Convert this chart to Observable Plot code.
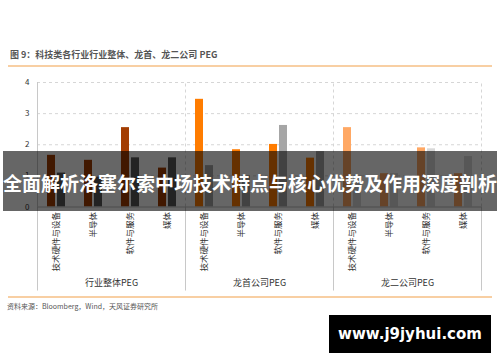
<!DOCTYPE html>
<html><head><meta charset="utf-8">
<script src="https://cdn.jsdelivr.net/npm/d3@7"></script>
<script src="https://cdn.jsdelivr.net/npm/@observablehq/plot@0.6"></script>
<style>
body{margin:0;background:#fff;}
#wrap{position:relative;width:500px;height:362px;overflow:hidden;font-family:"Noto Sans CJK SC","Noto Sans",sans-serif;background:#fff;}
#title{position:absolute;left:10px;top:48px;font-size:9px;font-weight:bold;color:#555;white-space:nowrap;}
.oline{position:absolute;left:8px;width:484px;height:2px;background:#f8cfa3;}
#chart{position:absolute;left:0;top:0;}
#source{position:absolute;left:7px;top:301px;font-size:7px;color:#555;white-space:nowrap;}
#banner{position:absolute;left:3px;top:151px;width:494px;height:60px;background:rgba(0,0,0,0.6);}
#banner span{position:absolute;left:0;top:19px;width:494px;text-align:center;font-size:19px;line-height:26px;font-weight:bold;color:#fff;white-space:nowrap;letter-spacing:0px;}
#wm{position:absolute;left:329px;top:315px;width:162px;height:38px;background:#000;color:#fff;font-family:"DejaVu Sans",sans-serif;font-weight:bold;font-size:15px;line-height:38px;text-align:center;}
</style></head><body>
<div id="wrap">
  <div id="title">图 9：科技类各行业行业整体、龙首、龙二公司 PEG</div>
  <div class="oline" style="top:65px"></div>
  <div id="chart"></div>
  <div class="oline" style="top:296px"></div>
  <div id="source">资料来源：Bloomberg，Wind，天风证券研究所</div>
  <div id="banner"><span>全面解析洛塞尔索中场技术特点与核心优势及作用深度剖析</span></div>
  <div id="wm">www.j9jyhui.com</div>
</div>
<script>
const groups = ["行业整体PEG", "龙首公司PEG", "龙二公司PEG"];
const categories = ["技术硬件与设备", "半导体", "软件与服务", "媒体"];
const pegValues = [1.66, 1.50, 2.55, 1.25, 3.46, 1.84, 2.01, 1.57, 2.55, 1.07, 1.90, 1.07];
const compareValues = [1.09, 0.96, 1.58, 1.58, 1.33, 1.00, 2.62, 1.78, 1.00, 1.07, 1.87, 1.62];
const yTicks = [0, 1, 2, 3, 4];

const mainColors = ["#a33d02", "#ff7c00", "#ffa864"];
const grayColors = ["#595959", "#a6a6a6", "#d9d9d9"];

const key = (g, c) => g + "|" + c;
const rows = [];
groups.forEach((g, gi) => categories.forEach((c, ci) => {
  const i = gi * categories.length + ci;
  rows.push({key: key(g, c), group: g, gi, peg: pegValues[i], cmp: compareValues[i]});
}));
const keys = rows.map(d => d.key);
const half = (481 - 37) / keys.length / 2;
const firstKeys = groups.map(g => key(g, categories[0]));
const lastKey = keys[keys.length - 1];

const chart = Plot.plot({
  width: 500,
  height: 300,
  marginTop: 82,
  marginBottom: 93.5,
  marginLeft: 37,
  marginRight: 19,
  style: {fontFamily: '"Noto Sans CJK SC", sans-serif', color: "#333", background: "transparent"},
  x: {type: "band", domain: keys, padding: 0, label: null},
  y: {domain: [0, 4], label: null},
  marks: [
    Plot.ruleY(yTicks.filter(t => t > 0), {stroke: "#d6d6d6", strokeDasharray: "3,3"}),
    Plot.ruleX(firstKeys.slice(1), {x: d => d, dx: -half, y1: 0, y2: 4, stroke: "#d6d6d6", strokeDasharray: "3,3"}),
    Plot.ruleX([lastKey], {x: d => d, dx: half, y1: 0, y2: 4, stroke: "#d6d6d6", strokeDasharray: "3,3"}),
    Plot.ruleX([firstKeys[0]], {x: d => d, dx: -half, y1: 4, y2: 0, stroke: "#c8c8c8"}),
    Plot.ruleX(firstKeys, {x: d => d, dx: -half, y1: 0, y2: -2.7, stroke: "#c8c8c8"}),
    Plot.ruleX([lastKey], {x: d => d, dx: half, y1: 0, y2: -2.7, stroke: "#c8c8c8"}),
    Plot.barY(rows, {x: "key", y: "peg", fill: d => mainColors[d.gi], insetLeft: 10, insetRight: 19}),
    Plot.barY(rows, {x: "key", y: "cmp", fill: d => grayColors[d.gi], insetLeft: 20, insetRight: 9}),
    Plot.ruleY([0], {stroke: "#bfbfbf"}),
    Plot.axisY({ticks: yTicks, tickSize: 0, tickPadding: 8, fontSize: 8, label: null, tickFormat: d => String(d)}),
    Plot.axisX({tickSize: 0, tickPadding: 5, tickRotate: -90, fontSize: 8.5, label: null, tickFormat: d => d.split("|")[1]}),
    Plot.text(groups, {x: g => key(g, categories[1]), dx: half, frameAnchor: "bottom", dy: 79, text: d => d, fontSize: 9, fill: "#333"})
  ]
});
document.getElementById("chart").appendChild(chart);
</script>
</body></html>
